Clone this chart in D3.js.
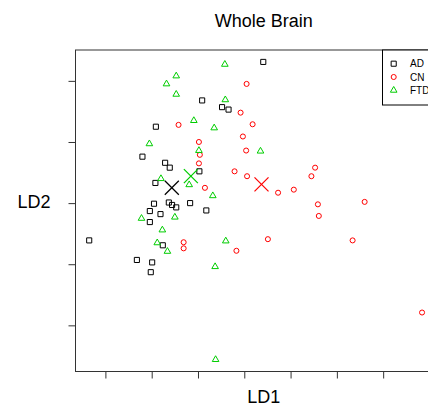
<!DOCTYPE html>
<html>
<head>
<meta charset="utf-8">
<script src="https://cdn.jsdelivr.net/npm/d3@7"></script>
<style>
  body { margin: 0; background: #fff; }
  text { font-family: "Liberation Sans", Arial, sans-serif; fill: #000; }
</style>
</head>
<body>
<div id="chart"></div>
<script>
// LD scores
const adX = [0.41, -0.91, -0.48, -0.34, -1.91, -2.20, -1.71, -1.61, -0.97, -1.92, -1.95, -1.63,
  -1.56, -1.47, -1.17, -2.04, -1.81, -0.82, -2.04, -1.76, -2.32, -1.99, -2.02, -3.35];
const adY = [2.31, 1.68, 1.57, 1.53, 1.25, 0.76, 0.66, 0.58, 0.52, 0.33, -0.01, 0.01,
  -0.03, -0.07, 0.00, -0.13, -0.18, -0.12, -0.31, -0.69, -0.93, -0.97, -1.13, -0.61];

const cnX = [-1.42, -0.98, -0.96, -0.98, -0.85, -1.31, -1.31, 0.05, -0.08, 0.18, -0.03, 0.04, -0.21,
  0.06, 0.73, 1.07, 1.53, 1.45, 1.59, 1.61, 2.60, 0.51, -0.17, 2.34, 3.84];
const cnY = [1.28, 1.00, 0.79, 0.65, 0.25, -0.64, -0.74, 1.95, 1.48, 1.29, 1.09, 0.86, 0.52,
  0.44, 0.17, 0.22, 0.58, 0.44, -0.02, -0.21, 0.02, -0.59, -0.78, -0.61, -1.79];

const ftdX = [-0.42, -1.47, -1.68, -1.47, -0.41, -1.09, -0.65, -2.05, -0.98, 0.35, -1.80, -1.19,
  -0.68, -2.22, -1.50, -1.77, -1.88, -1.66, -0.40, -0.63, -0.62];
const ftdY = [2.27, 2.08, 1.95, 1.78, 1.69, 1.35, 1.23, 0.97, 0.86, 0.85, 0.40, 0.30,
  0.12, -0.25, -0.23, -0.44, -0.65, -0.79, -0.62, -1.04, -2.56];

const groups = ["AD", "CN", "FTD"];
const xTicks = [-3, -2, -1, 0, 1, 2, 3];
const yTicks = [-2, -1, 0, 1, 2];

const colours = { AD: "#000000", CN: "#ff0000", FTD: "#00cd00" };
const shapes = { AD: d3.symbolSquare, CN: d3.symbolCircle, FTD: d3.symbolTriangle };
const sizes = { AD: 26, CN: 20, FTD: 19 };

const width = 428, height = 407;
const box = { left: 75.5, top: 50, right: 452, bottom: 371.5 };

const series = [
  { group: "AD", xs: adX, ys: adY },
  { group: "CN", xs: cnX, ys: cnY },
  { group: "FTD", xs: ftdX, ys: ftdY },
];

const points = series.flatMap(s => s.xs.map((x, i) => ({ group: s.group, x: x, y: s.ys[i] })));
const centroids = series.map(s => ({ group: s.group, x: d3.mean(s.xs), y: d3.mean(s.ys) }));

const xScale = d3.scaleLinear().domain([-3.646, 4.487]).range([box.left, box.right]);
const yScale = d3.scaleLinear().domain([-2.755, 2.505]).range([box.bottom, box.top]);

const svg = d3.select("#chart").append("svg")
  .attr("width", width)
  .attr("height", height);

// axes, no tick labels
svg.append("g")
  .attr("transform", `translate(0,${box.bottom})`)
  .call(d3.axisBottom(xScale).tickValues(xTicks).tickSize(7).tickSizeOuter(0).tickFormat(""))
  .call(g => g.select(".domain").remove())
  .selectAll("line").attr("stroke", "#333");

svg.append("g")
  .attr("transform", `translate(${box.left},0)`)
  .call(d3.axisLeft(yScale).tickValues(yTicks).tickSize(7).tickSizeOuter(0).tickFormat(""))
  .call(g => g.select(".domain").remove())
  .selectAll("line").attr("stroke", "#333");

// plot box
svg.append("rect")
  .attr("x", box.left)
  .attr("y", box.top)
  .attr("width", box.right - box.left)
  .attr("height", box.bottom - box.top)
  .attr("fill", "none")
  .attr("stroke", "#333")
  .attr("stroke-width", 1);

// points
svg.append("g").attr("class", "points").selectAll("path")
  .data(points)
  .join("path")
  .attr("transform", d => `translate(${xScale(d.x)},${yScale(d.y)})`)
  .attr("d", d => d3.symbol().type(shapes[d.group]).size(sizes[d.group])())
  .attr("fill", "none")
  .style("stroke", d => colours[d.group])
  .attr("stroke-width", 1);

// group means as big crosses
const cross = 7;
const means = svg.append("g").attr("class", "means").selectAll("g")
  .data(centroids)
  .join("g")
  .attr("transform", d => `translate(${xScale(d.x)},${yScale(d.y)})`)
  .style("stroke", d => colours[d.group])
  .attr("stroke-width", 1.2);

means.append("line")
  .attr("x1", -cross).attr("y1", -cross)
  .attr("x2", cross).attr("y2", cross);
means.append("line")
  .attr("x1", -cross).attr("y1", cross)
  .attr("x2", cross).attr("y2", -cross);

// legend (top right, runs off the picture)
const legend = svg.append("g").attr("transform", `translate(382.5,${box.top})`);
legend.append("rect")
  .attr("width", box.right - 382.5)
  .attr("height", 55)
  .attr("fill", "#fff")
  .attr("stroke", "#000");

const rows = legend.selectAll("g")
  .data(groups)
  .join("g")
  .attr("transform", (d, i) => `translate(0,${13.7 + i * 13.3})`);

rows.append("path")
  .attr("transform", "translate(11.2,0)")
  .attr("d", d => d3.symbol().type(shapes[d]).size(sizes[d])())
  .attr("fill", "none")
  .style("stroke", d => colours[d]);

rows.append("text")
  .attr("x", 27.5)
  .attr("dy", "0.35em")
  .style("font-size", "10px")
  .text(d => d);

// titles
const midX = (box.left + box.right) / 2;
svg.append("text")
  .attr("x", midX)
  .attr("y", 27)
  .attr("text-anchor", "middle")
  .style("font-size", "18px")
  .text("Whole Brain");

svg.append("text")
  .attr("x", midX)
  .attr("y", 403)
  .attr("text-anchor", "middle")
  .style("font-size", "18px")
  .text("LD1");

svg.append("text")
  .attr("x", 34)
  .attr("y", 202)
  .attr("dy", "0.35em")
  .attr("text-anchor", "middle")
  .style("font-size", "18px")
  .text("LD2");
</script>
</body>
</html>
